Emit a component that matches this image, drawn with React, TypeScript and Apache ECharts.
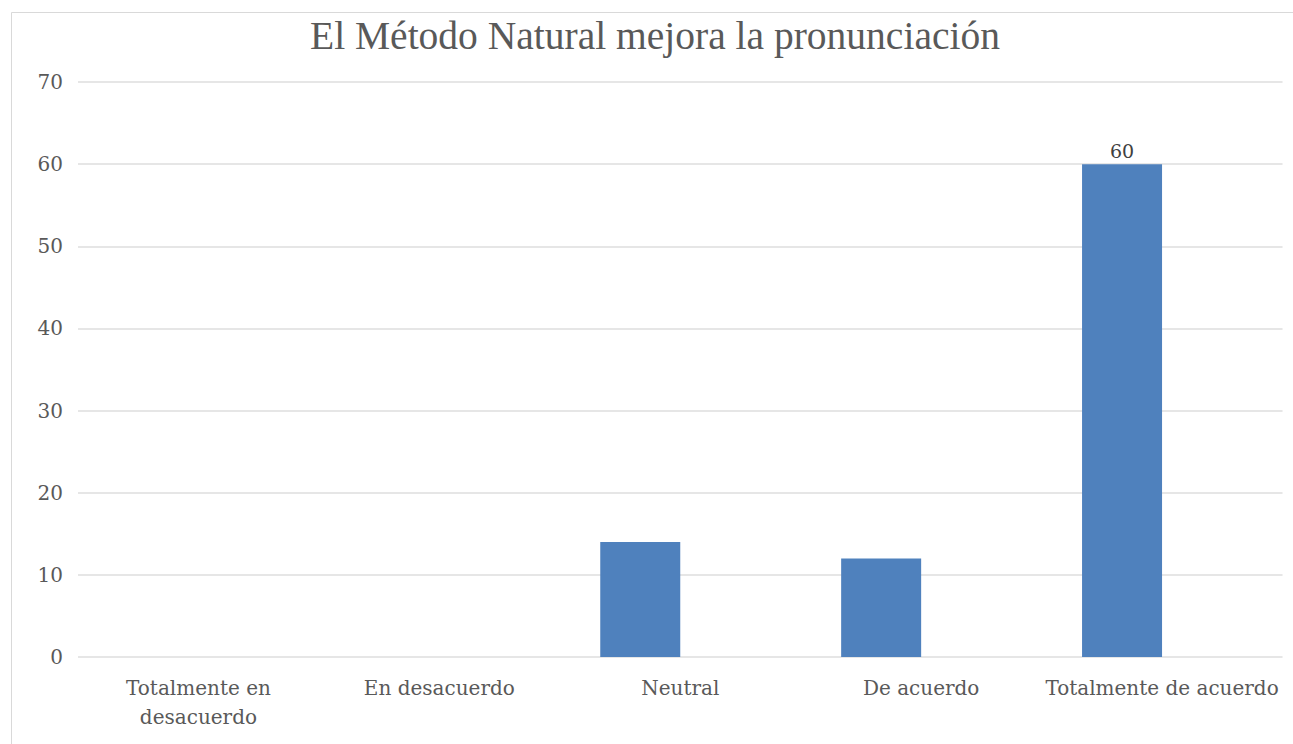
import React, { useEffect, useRef } from "react";
import * as echarts from "echarts";

const chartTitle = "El Método Natural mejora la pronunciación";
const categories = [
  "Totalmente en\ndesacuerdo",
  "En desacuerdo",
  "Neutral",
  "De acuerdo",
  "Totalmente de acuerdo",
];
const responses = [0, 0, 14, 12, 60];
const labelledIndex = [4];
const yTicks = { min: 0, max: 70, interval: 10 };

const TITLE_FONT = "'Liberation Serif', 'DejaVu Serif', serif";
const FONT = "'DejaVu Serif', 'Liberation Serif', serif";

export default function App() {
  const ref = useRef<HTMLDivElement>(null);
  useEffect(() => {
    if (!ref.current) return;
    const chart = echarts.init(ref.current, undefined, { renderer: "svg" });
    chart.setOption({
      animation: false,
      title: {
        text: chartTitle,
        left: 305,
        top: 11,
        textStyle: { fontFamily: TITLE_FONT, fontSize: 39.5, fontWeight: "normal", color: "#595959" },
      },
      graphic: [
        {
          type: "rect",
          shape: { x: 11.5, y: 12.5, width: 1290, height: 740 },
          style: { fill: "none", stroke: "#d9d9d9", lineWidth: 1 },
          silent: true,
        },
      ],
      grid: { left: 78, right: 10.5, top: 82, bottom: 87, containLabel: false },
      xAxis: {
        type: "category",
        data: categories,
        axisLine: { show: false },
        axisTick: { show: false },
        axisLabel: {
          fontFamily: FONT,
          fontSize: 20,
          color: "#595959",
          margin: 16,
          lineHeight: 29,
          interval: 0,
        },
      },
      yAxis: {
        type: "value",
        min: yTicks.min,
        max: yTicks.max,
        interval: yTicks.interval,
        axisLine: { show: false },
        axisTick: { show: false },
        axisLabel: { fontFamily: FONT, fontSize: 20, color: "#595959", margin: 15 },
        splitLine: { lineStyle: { color: "#e6e6e6", width: 2 } },
      },
      series: [
        {
          type: "bar",
          name: "Respuestas",
          data: responses.map((v, i) => ({
            value: v,
            label: { show: labelledIndex.includes(i) },
          })),
          barWidth: 80,
          barGap: "0%",
          itemStyle: { color: "#4f81bd" },
          label: {
            position: "top",
            fontFamily: FONT,
            fontSize: 19,
            color: "#404040",
            distance: 4,
          },
        },
        {
          type: "bar",
          name: "",
          data: responses.map(() => null),
          barWidth: 80,
          barGap: "0%",
          itemStyle: { color: "transparent" },
        },
      ],
    });
    return () => chart.dispose();
  }, []);
  return (
    <div
      ref={ref}
      style={{ position: "fixed", left: 0, top: 0, width: 1293, height: 744, background: "#fff" }}
    />
  );
}
